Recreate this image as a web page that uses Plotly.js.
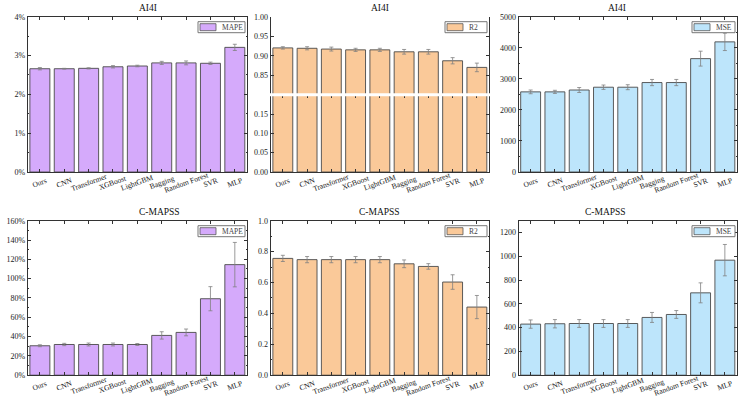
<!DOCTYPE html>
<html>
<head>
<meta charset="utf-8">
<script src="https://cdn.plot.ly/plotly-3.0.1.min.js"></script>
<style>html,body{margin:0;padding:0;background:#fff;}#chart{width:744px;height:405px;}</style>
</head>
<body>
<div id="chart"></div>
<script>
const models = ["Ours","CNN","Transformer","XGBoost","LightGBM","Bagging","Random Forest","SVR","MLP"];

const ai4iMape = [2.66, 2.66, 2.67, 2.71, 2.73, 2.81, 2.81, 2.80, 3.21];
const ai4iMapeErr = [0.03, 0.01, 0.015, 0.03, 0.02, 0.04, 0.05, 0.03, 0.08];
const ai4iR2 = [0.920, 0.919, 0.917, 0.915, 0.915, 0.910, 0.910, 0.887, 0.870];
const ai4iR2Err = [0.003, 0.004, 0.005, 0.004, 0.004, 0.006, 0.006, 0.008, 0.011];
const ai4iMse = [2580, 2580, 2640, 2730, 2730, 2880, 2880, 3650, 4190];
const ai4iMseErr = [60, 50, 80, 70, 80, 100, 100, 240, 280];

const cmMape = [30.5, 31.8, 31.8, 31.8, 31.8, 41.2, 44.3, 79.2, 114.5];
const cmMapeErr = [1.0, 1.2, 1.5, 1.5, 1.0, 3.8, 3.5, 12.5, 23.0];
const cmR2 = [0.756, 0.748, 0.748, 0.748, 0.748, 0.721, 0.704, 0.603, 0.441];
const cmR2Err = [0.02, 0.02, 0.02, 0.02, 0.02, 0.025, 0.018, 0.047, 0.075];
const cmMse = [430, 433, 435, 435, 435, 486, 511, 693, 968];
const cmMseErr = [35, 35, 33, 33, 33, 42, 33, 84, 132];

const panelTitles = ["AI4I", "AI4I", "AI4I", "C-MAPSS", "C-MAPSS", "C-MAPSS"];
const legendNames = ["MAPE", "R2", "MSE", "MAPE", "R2", "MSE"];

const purple = "#D5AAFB", orange = "#FAC999", blue = "#BDE5FB";
const panelColors = [purple, orange, blue, purple, orange, blue];
const font = "Liberation Serif, Times New Roman, serif";

const W = 744, H = 405;
const colX = [[27.7, 247], [270.7, 489], [518.5, 737]];
const rowY = [[16.7, 172], [220.7, 375.2]];
const px = v => v / W, py = v => 1 - v / H;
const breakY = 94.7;

function errObj(arr) {
  return {type: "data", array: arr, visible: true, color: "#808080", thickness: 0.8, width: 2};
}
function bar(y, err, color, xa, ya) {
  const t = {
    type: "bar", x: models, y: y, xaxis: xa, yaxis: ya,
    marker: {color: color, line: {color: "#4a4a4a", width: 0.9}},
    showlegend: false, hoverinfo: "skip"
  };
  if (err) t.error_y = errObj(err);
  return t;
}

const traces = [
  bar(ai4iMape, ai4iMapeErr, purple, "x", "y"),
  bar(ai4iR2, ai4iR2Err, orange, "x2", "y2"),
  bar(ai4iR2, null, orange, "x2", "y7"),
  bar(ai4iMse, ai4iMseErr, blue, "x3", "y3"),
  bar(cmMape, cmMapeErr, purple, "x4", "y4"),
  bar(cmR2, cmR2Err, orange, "x5", "y5"),
  bar(cmMse, cmMseErr, blue, "x6", "y6")
];

const tickFont = {family: font, size: 8, color: "#222"};
function xax(col, anchor) {
  return {
    domain: [px(colX[col][0]), px(colX[col][1])], anchor: anchor,
    range: [-0.5, 8.5], showline: true, mirror: "ticks", linecolor: "#333", linewidth: 1,
    ticks: "inside", ticklen: 3, tickcolor: "#333", showticklabels: false,
    showgrid: false, zeroline: false, fixedrange: true
  };
}
function yax(row, anchor, opts, dom) {
  return Object.assign({
    domain: dom || [py(rowY[row][1]), py(rowY[row][0])], anchor: anchor,
    showline: true, mirror: "ticks", linecolor: "#333", linewidth: 1,
    ticks: "inside", ticklen: 3, tickcolor: "#333", tickfont: tickFont,
    showgrid: false, zeroline: false, fixedrange: true,
    minor: {ticks: "inside", ticklen: 1.5, tickcolor: "#333", nticks: 2}
  }, opts);
}

const annotations = [];
const shapes = [];
const xrefs = ["x", "x2", "x3", "x4", "x5", "x6"];
const legendW = [47, 42, 43, 47, 42, 43];

for (let p = 0; p < 6; p++) {
  const col = p % 3, row = Math.floor(p / 3);
  const left = colX[col][0], right = colX[col][1], top = rowY[row][0], bottom = rowY[row][1];
  annotations.push({
    text: panelTitles[p], xref: "paper", yref: "paper", showarrow: false,
    x: px((left + right) / 2), y: py(top - 1.5), yanchor: "bottom",
    font: {family: font, size: 9.5, color: "#111"}
  });
  models.forEach(m => {
    annotations.push({
      text: m, xref: xrefs[p], yref: "paper", x: m, y: py(bottom + 10),
      xanchor: "center", yanchor: "middle", showarrow: false, textangle: -20,
      font: {family: font, size: 7.5, color: "#222"}
    });
  });
  const lt = top + 5, lb = top + 16, lr = right - 2, ll = lr - legendW[p];
  shapes.push({type: "rect", xref: "paper", yref: "paper", layer: "above",
    x0: px(ll), x1: px(lr), y0: py(lb), y1: py(lt),
    fillcolor: "#fff", line: {color: "#777", width: 1}});
  shapes.push({type: "rect", xref: "paper", yref: "paper", layer: "above",
    x0: px(ll + 2), x1: px(ll + 18), y0: py(lb - 2), y1: py(lt + 2),
    fillcolor: panelColors[p], line: {color: "#555", width: 0.8}});
  annotations.push({
    text: legendNames[p], xref: "paper", yref: "paper", showarrow: false,
    x: px(ll + 22), y: py((lt + lb) / 2), xanchor: "left", yanchor: "middle",
    font: {family: font, size: 7.5, color: "#444"}
  });
}

shapes.push({
  type: "line", xref: "paper", yref: "paper", layer: "above",
  x0: px(colX[1][0] - 4), x1: px(colX[1][1] + 1), y0: py(breakY), y1: py(breakY),
  line: {color: "#fff", width: 3}
});

const layout = {
  width: W, height: H, margin: {l: 0, r: 0, t: 0, b: 0},
  paper_bgcolor: "#fff", plot_bgcolor: "#fff", bargap: 0.18, showlegend: false,
  xaxis: xax(0, "y"), xaxis2: xax(1, "y7"), xaxis3: xax(2, "y3"),
  xaxis4: xax(0, "y4"), xaxis5: xax(1, "y5"), xaxis6: xax(2, "y6"),
  yaxis: yax(0, "x", {range: [0, 4], dtick: 1, ticksuffix: "%"}),
  yaxis2: yax(0, "x2", {range: [0.8, 1.0], tickvals: [0.85, 0.9, 0.95, 1.0], tickformat: ".2f"},
              [py(breakY), py(rowY[0][0])]),
  yaxis7: yax(0, "x2", {range: [0, 0.2], tickvals: [0, 0.05, 0.1, 0.15], tickformat: ".2f"},
              [py(rowY[0][1]), py(breakY)]),
  yaxis3: yax(0, "x3", {range: [0, 5000], dtick: 1000}),
  yaxis4: yax(1, "x4", {range: [0, 160], dtick: 20, ticksuffix: "%"}),
  yaxis5: yax(1, "x5", {range: [0, 1], dtick: 0.2, tickformat: ".1f"}),
  yaxis6: yax(1, "x6", {range: [0, 1300], tickvals: [0, 200, 400, 600, 800, 1000, 1200]}),
  annotations: annotations,
  shapes: shapes
};

Plotly.newPlot("chart", traces, layout, {staticPlot: true, displayModeBar: false});
</script>
</body>
</html>
